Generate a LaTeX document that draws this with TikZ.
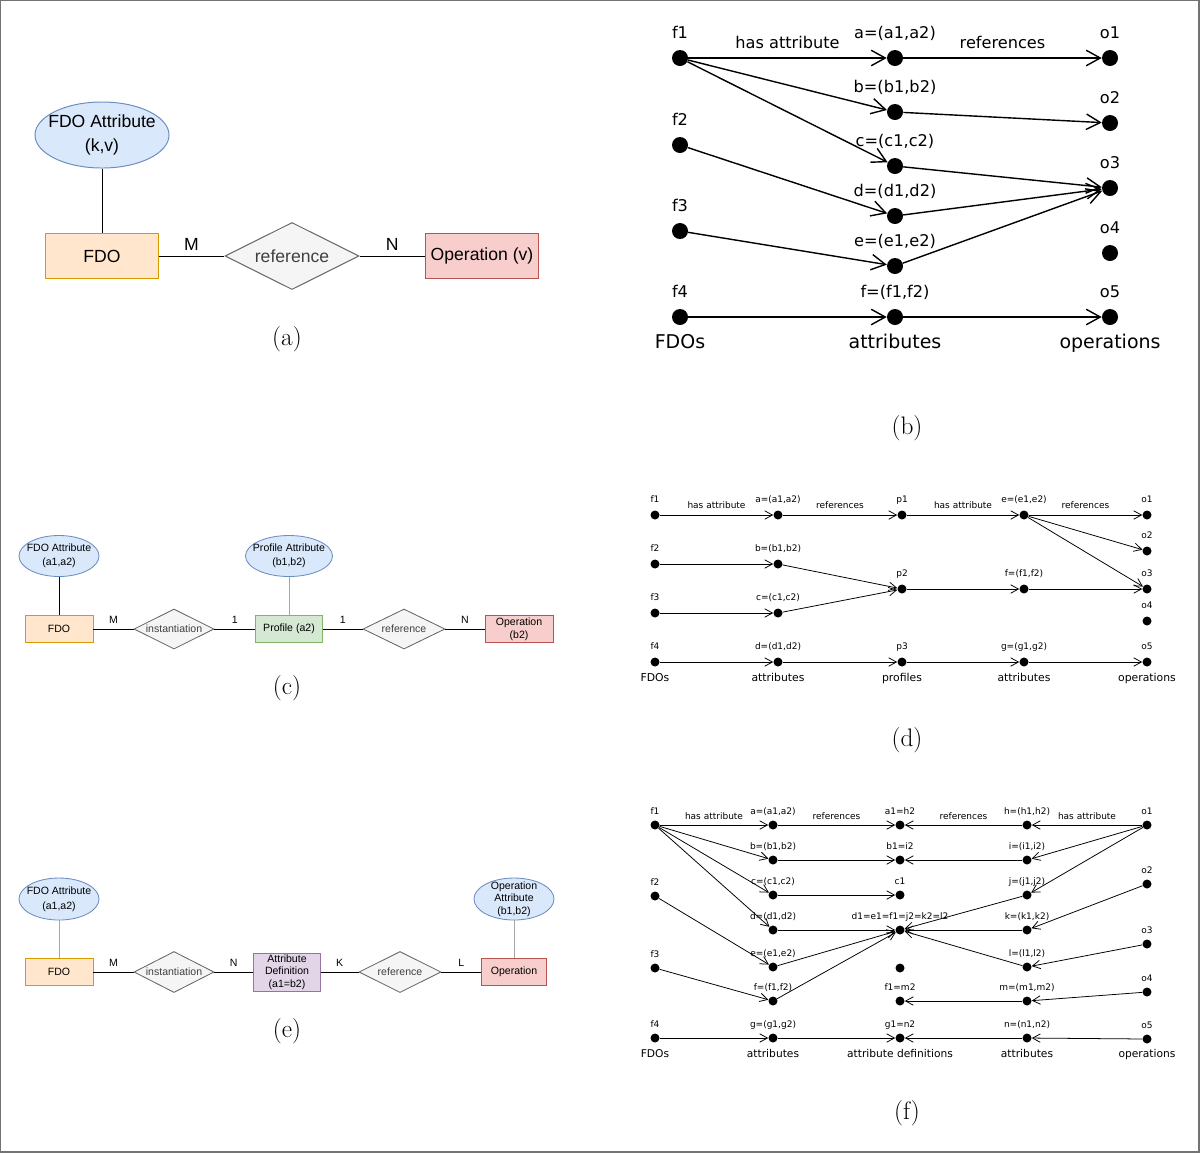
\documentclass[tikz,border=0pt]{standalone}
\usepackage{fontspec}
\usetikzlibrary{arrows.meta,positioning,shapes.geometric}
\newfontfamily\erfont{Liberation Sans}
\newfontfamily\grfont{DejaVu Sans}
\definecolor{attrfill}{HTML}{DAE8FC}
\definecolor{attrline}{HTML}{6C8EBF}
\definecolor{fdofill}{HTML}{FFE6CC}
\definecolor{fdoline}{HTML}{D79B00}
\definecolor{opfill}{HTML}{F8CECC}
\definecolor{opline}{HTML}{B85450}
\definecolor{proffill}{HTML}{D5E8D4}
\definecolor{profline}{HTML}{82B366}
\definecolor{deffill}{HTML}{E1D5E7}
\definecolor{defline}{HTML}{9673A6}
\definecolor{relfill}{HTML}{F5F5F5}
\definecolor{relline}{HTML}{666666}
\tikzset{
  entity/.style={rectangle, draw, inner sep=1pt, align=center},
  attrib/.style={ellipse, draw=attrline, fill=attrfill, inner xsep=-6pt, inner ysep=-4pt, align=center},
  relship/.style={diamond, draw=relline, fill=relfill, text=black!75, inner sep=0pt, aspect=2},
  sublabel/.style={font=\fontsize{18}{18}\selectfont},
  dlbl/.style={inner sep=1pt, text height=1.4ex, text depth=.25ex},
  bdot/.style={circle, fill, inner sep=0pt, minimum size=0.4cm},
  sdot/.style={circle, fill, inner sep=0pt, minimum size=0.225cm},
  bigarr/.style={-{Straight Barb[length=10pt,width=11pt]}, line width=1pt},
  smallarr/.style={-{Straight Barb[length=5.5pt,width=6pt]}, line width=0.55pt},
}
\begin{document}
\begin{tikzpicture}[x=0.025cm, y=-0.025cm]
\useasboundingbox (0,0) rectangle (1200,1153);
\draw[black!55, line width=0.8pt] (0.5,0.5) rectangle (1199,1152);

% (a)
\begin{scope}[font=\erfont\fontsize{12.5}{17}\selectfont, line width=0.7pt]
  \node[attrib, minimum width=3.35cm, minimum height=1.65cm] (aAttr) at (102,135) {FDO Attribute\\(k,v)};
  \node[entity, draw=fdoline, fill=fdofill, minimum width=2.8cm, minimum height=1.125cm] (aFDO) at (102,256) {FDO};
  \node[relship, minimum width=3.35cm, minimum height=1.675cm] (aRef) at (292,256) {reference};
  \node[entity, draw=opline, fill=opfill, minimum width=2.825cm, minimum height=1.125cm] (aOp) at (482,256) {Operation (v)};
  \draw (aAttr) -- (aFDO);
  \draw (aFDO) -- node[above=0.5pt] {M} (aRef);
  \draw (aRef) -- node[above=0.5pt] {N} (aOp);
\end{scope}
\node[sublabel] (capA) at (287,339) {(a)};

% (b)
\begin{scope}[font=\grfont\fontsize{11.5}{13}\selectfont, every label/.style={dlbl}, label distance=5.8pt]
  \node[bdot, label={above:f1}] (bF1) at (680,58) {};
  \node[bdot, label={above:f2}] (bF2) at (680,145) {};
  \node[bdot, label={above:f3}] (bF3) at (680,231) {};
  \node[bdot, label={above:f4}] (bF4) at (680,317) {};
  \node[bdot, label={above:{a=(a1,a2)}}] (ba) at (895,58) {};
  \node[bdot, label={above:{b=(b1,b2)}}] (bb) at (895,112) {};
  \node[bdot, label={above:{c=(c1,c2)}}] (bc) at (895,166) {};
  \node[bdot, label={above:{d=(d1,d2)}}] (bd) at (895,216) {};
  \node[bdot, label={above:{e=(e1,e2)}}] (be) at (895,266) {};
  \node[bdot, label={above:{f=(f1,f2)}}] (bf) at (895,317) {};
  \node[bdot, label={above:o1}] (bO1) at (1110,58) {};
  \node[bdot, label={above:o2}] (bO2) at (1110,123) {};
  \node[bdot, label={above:o3}] (bO3) at (1110,188) {};
  \node[bdot, label={above:o4}] (bO4) at (1110,253) {};
  \node[bdot, label={above:o5}] (bO5) at (1110,317) {};
  \begin{scope}[font=\grfont\fontsize{13.5}{15}\selectfont]
    \node[dlbl] (bT1) at (680,345) {FDOs};
    \node[dlbl] (bT2) at (895,345) {attributes};
    \node[dlbl] (bT3) at (1110,345) {operations};
  \end{scope}
  \path[bigarr]
    (bF1) edge node[dlbl, above=4.4pt] {has attribute} (ba)
          edge (bb)
          edge (bc)
    (ba) edge node[dlbl, above=4.4pt] {references} (bO1)
    (bb) edge (bO2)
    (bc) edge (bO3)
    (bF2) edge (bd)
    (bd) edge (bO3)
    (bF3) edge (be)
    (be) edge (bO3)
    (bF4) edge (bf)
    (bf) edge (bO5);
\end{scope}
\node[sublabel] (capB) at (907,428) {(b)};

% (c)
\begin{scope}[font=\erfont\fontsize{7.5}{10}\selectfont, line width=0.6pt]
  \node[attrib, minimum width=2cm, minimum height=1.025cm] (cAttr) at (59,556) {FDO Attribute\\(a1,a2)};
  \node[entity, draw=fdoline, fill=fdofill, minimum width=1.7cm, minimum height=0.675cm] (cFDO) at (59,629) {FDO};
  \node[relship, minimum width=2cm, minimum height=1cm] (cInst) at (174,629) {instantiation};
  \node[entity, draw=profline, fill=proffill, minimum width=1.675cm, minimum height=0.675cm] (cProf) at (289,629) {Profile (a2)};
  \node[attrib, minimum width=2.175cm, minimum height=1.025cm] (cPAttr) at (289,556) {Profile Attribute\\(b1,b2)};
  \node[relship, minimum width=2.05cm, minimum height=1cm] (cRef) at (404,629) {reference};
  \node[entity, draw=opline, fill=opfill, minimum width=1.7cm, minimum height=0.675cm, font=\erfont\fontsize{7.5}{9.2}\selectfont] (cOp) at (519,629) {Operation\\(b2)};
  \draw (cAttr) -- (cFDO);
  \draw[black!35] (cPAttr) -- (cProf);
  \draw (cFDO) -- node[above=0.3pt] {M} (cInst);
  \draw (cInst) -- node[above=0.3pt] {1} (cProf);
  \draw (cProf) -- node[above=0.3pt] {1} (cRef);
  \draw (cRef) -- node[above=0.3pt] {N} (cOp);
\end{scope}
\node[sublabel] (capC) at (287,688) {(c)};

% (d)
\begin{scope}[font=\grfont\fontsize{6.4}{8}\selectfont, every label/.style={dlbl}, label distance=3.5pt]
  \node[sdot, label={above:f1}] (dF1) at (655,515) {};
  \node[sdot, label={above:f2}] (dF2) at (655,564) {};
  \node[sdot, label={above:f3}] (dF3) at (655,613) {};
  \node[sdot, label={above:f4}] (dF4) at (655,662) {};
  \node[sdot, label={above:{a=(a1,a2)}}] (da) at (778,515) {};
  \node[sdot, label={above:{b=(b1,b2)}}] (db) at (778,564) {};
  \node[sdot, label={above:{c=(c1,c2)}}] (dc) at (778,613) {};
  \node[sdot, label={above:{d=(d1,d2)}}] (dd) at (778,662) {};
  \node[sdot, label={above:p1}] (dP1) at (902,515) {};
  \node[sdot, label={above:p2}] (dP2) at (902,589) {};
  \node[sdot, label={above:p3}] (dP3) at (902,662) {};
  \node[sdot, label={above:{e=(e1,e2)}}] (de) at (1024,515) {};
  \node[sdot, label={above:{f=(f1,f2)}}] (df) at (1024,589) {};
  \node[sdot, label={above:{g=(g1,g2)}}] (dg) at (1024,662) {};
  \node[sdot, label={above:o1}] (dO1) at (1147,515) {};
  \node[sdot, label={above:o2}] (dO2) at (1147,551) {};
  \node[sdot, label={above:o3}] (dO3) at (1147,589) {};
  \node[sdot, label={above:o4}] (dO4) at (1147,621) {};
  \node[sdot, label={above:o5}] (dO5) at (1147,662) {};
  \begin{scope}[font=\grfont\fontsize{7.7}{9}\selectfont]
    \node[dlbl] (dT1) at (655,678) {FDOs};
    \node[dlbl] (dT2) at (778,678) {attributes};
    \node[dlbl] (dT3) at (902,678) {profiles};
    \node[dlbl] (dT4) at (1024,678) {attributes};
    \node[dlbl] (dT5) at (1147,678) {operations};
  \end{scope}
  \path[smallarr]
    (dF1) edge node[dlbl, above=2.5pt] {has attribute} (da)
    (da) edge node[dlbl, above=2.5pt] {references} (dP1)
    (dP1) edge node[dlbl, above=2.5pt] {has attribute} (de)
    (de) edge node[dlbl, above=2.5pt] {references} (dO1)
         edge (dO2)
         edge (dO3)
    (dF2) edge (db)
    (db) edge (dP2)
    (dF3) edge (dc)
    (dc) edge (dP2)
    (dP2) edge (df)
    (df) edge (dO3)
    (dF4) edge (dd)
    (dd) edge (dP3)
    (dP3) edge (dg)
    (dg) edge (dO5);
\end{scope}
\node[sublabel] (capD) at (907,740) {(d)};

% (e)
\begin{scope}[font=\erfont\fontsize{7.5}{9}\selectfont, line width=0.6pt]
  \node[attrib, minimum width=2cm, minimum height=1.05cm, font=\erfont\fontsize{7.5}{10.5}\selectfont] (eAttr) at (59,899) {FDO Attribute\\(a1,a2)};
  \node[entity, draw=fdoline, fill=fdofill, minimum width=1.7cm, minimum height=0.675cm] (eFDO) at (59,972) {FDO};
  \node[relship, minimum width=2cm, minimum height=1.025cm] (eInst) at (174,972) {instantiation};
  \node[entity, draw=defline, fill=deffill, minimum width=1.675cm, minimum height=0.95cm] (eDef) at (287,972) {Attribute\\Definition\\(a1=b2)};
  \node[relship, minimum width=2.05cm, minimum height=1.025cm] (eRef) at (400,972) {reference};
  \node[entity, draw=opline, fill=opfill, minimum width=1.625cm, minimum height=0.675cm] (eOp) at (514,972) {Operation};
  \node[attrib, minimum width=2cm, minimum height=1.05cm] (eOAttr) at (514,899) {Operation\\Attribute\\(b1,b2)};
  \draw[black!35] (eAttr) -- (eFDO);
  \draw[black!35] (eOAttr) -- (eOp);
  \draw (eFDO) -- node[above=0.3pt] {M} (eInst);
  \draw (eInst) -- node[above=0.3pt] {N} (eDef);
  \draw (eDef) -- node[above=0.3pt] {K} (eRef);
  \draw (eRef) -- node[above=0.3pt] {L} (eOp);
\end{scope}
\node[sublabel] (capE) at (287,1031) {(e)};

% (f)
\begin{scope}[font=\grfont\fontsize{6.4}{8}\selectfont, every label/.style={dlbl}, label distance=2.1pt]
  \node[sdot, label={above:f1}] (fF1) at (655,825) {};
  \node[sdot, label={above:f2}] (fF2) at (655,896) {};
  \node[sdot, label={above:f3}] (fF3) at (655,968) {};
  \node[sdot, label={above:f4}] (fF4) at (655,1038) {};
  \node[sdot, label={above:{a=(a1,a2)}}] (fa) at (773,825) {};
  \node[sdot, label={above:{b=(b1,b2)}}] (fb) at (773,860) {};
  \node[sdot, label={above:{c=(c1,c2)}}] (fc) at (773,895) {};
  \node[sdot, label={above:{d=(d1,d2)}}] (fd) at (773,930) {};
  \node[sdot, label={above:{e=(e1,e2)}}] (fe) at (773,967) {};
  \node[sdot, label={above:{f=(f1,f2)}}] (ff) at (773,1001) {};
  \node[sdot, label={above:{g=(g1,g2)}}] (fg) at (773,1038) {};
  \node[sdot, label={above:{a1=h2}}] (fDa) at (900,825) {};
  \node[sdot, label={above:{b1=i2}}] (fDb) at (900,860) {};
  \node[sdot, label={above:c1}] (fDc) at (900,895) {};
  \node[sdot, label={above:{d1=e1=f1=j2=k2=l2}}] (fDd) at (900,930) {};
  \node[sdot] (fDe) at (900,968) {};
  \node[sdot, label={above:{f1=m2}}] (fDf) at (900,1001) {};
  \node[sdot, label={above:{g1=n2}}] (fDg) at (900,1038) {};
  \node[sdot, label={above:{h=(h1,h2)}}] (fh) at (1027,825) {};
  \node[sdot, label={above:{i=(i1,i2)}}] (fi) at (1027,860) {};
  \node[sdot, label={above:{j=(j1,j2)}}] (fj) at (1027,895) {};
  \node[sdot, label={above:{k=(k1,k2)}}] (fk) at (1027,930) {};
  \node[sdot, label={above:{l=(l1,l2)}}] (fl) at (1027,967) {};
  \node[sdot, label={above:{m=(m1,m2)}}] (fm) at (1027,1001) {};
  \node[sdot, label={above:{n=(n1,n2)}}] (fn) at (1027,1038) {};
  \node[sdot, label={above:o1}] (fO1) at (1147,825) {};
  \node[sdot, label={above:o2}] (fO2) at (1147,884) {};
  \node[sdot, label={above:o3}] (fO3) at (1147,944) {};
  \node[sdot, label={above:o4}] (fO4) at (1147,992) {};
  \node[sdot, label={above:o5}] (fO5) at (1147,1039) {};
  \begin{scope}[font=\grfont\fontsize{7.6}{9}\selectfont]
    \node[dlbl] (fT1) at (655,1054) {FDOs};
    \node[dlbl] (fT2) at (773,1054) {attributes};
    \node[dlbl] (fT3) at (900,1054) {attribute definitions};
    \node[dlbl] (fT4) at (1027,1054) {attributes};
    \node[dlbl] (fT5) at (1147,1054) {operations};
  \end{scope}
  \path[smallarr]
    (fF1) edge node[dlbl, above=1.8pt] {has attribute} (fa)
          edge (fb)
          edge (fc)
          edge (fd)
    (fF2) edge (fe)
    (fF3) edge (ff)
    (fF4) edge (fg)
    (fa) edge node[dlbl, above=1.8pt] {references} (fDa)
    (fb) edge (fDb)
    (fc) edge (fDc)
    (fd) edge (fDd)
    (fe) edge (fDd)
    (ff) edge (fDd)
    (fg) edge (fDg)
    (fh) edge node[dlbl, above=1.8pt] {references} (fDa)
    (fi) edge (fDb)
    (fj) edge (fDd)
    (fk) edge (fDd)
    (fl) edge (fDd)
    (fm) edge (fDf)
    (fn) edge (fDg)
    (fO1) edge node[dlbl, above=1.8pt] {has attribute} (fh)
          edge (fi)
          edge (fj)
    (fO2) edge (fk)
    (fO3) edge (fl)
    (fO4) edge (fm)
    (fO5) edge (fn);
\end{scope}
\node[sublabel] (capF) at (907,1113) {(f)};
\end{tikzpicture}
\end{document}
